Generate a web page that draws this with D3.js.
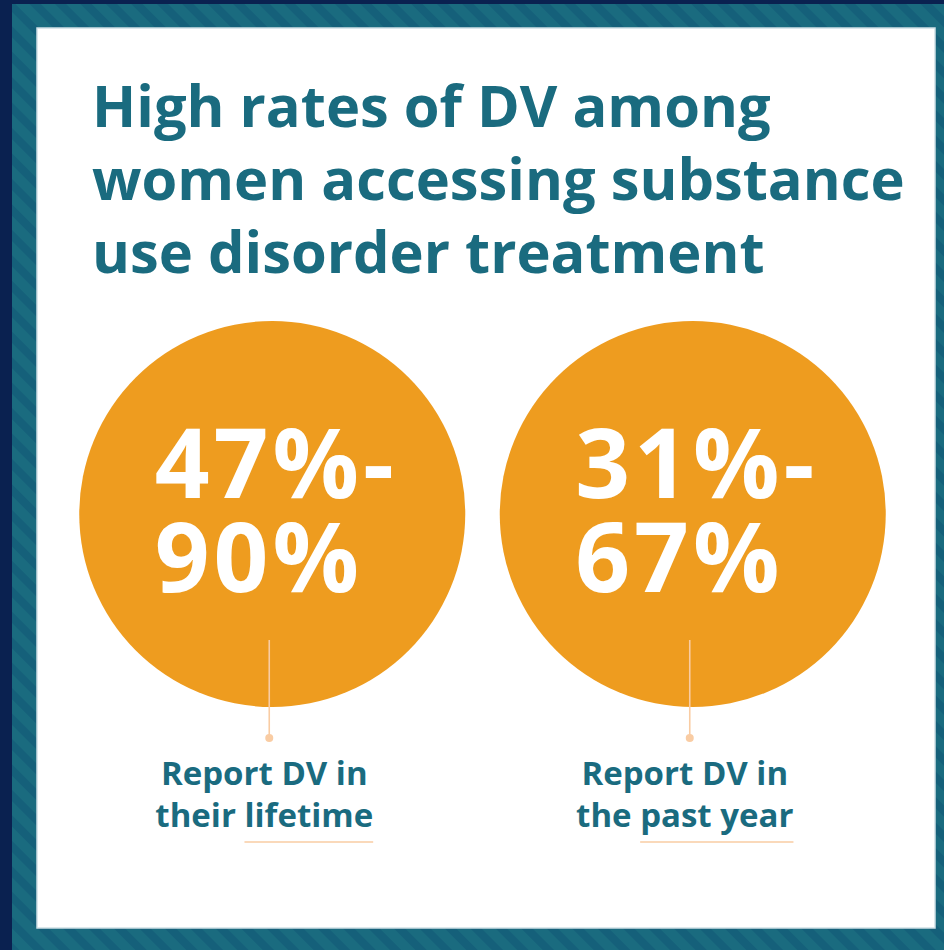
<!DOCTYPE html>
<html lang="en">
<head>
    <meta charset="UTF-8">
    <title>High rates of DV</title>
    <script src="https://d3js.org/d3.v7.min.js"></script>
    <style>
        body { margin: 0; background: #0a2150; }
        text { font-family: "Open Sans", "Noto Sans", sans-serif; font-weight: 700; }
    </style>
</head>
<body>
    <svg width="944" height="950"></svg>
    <script>
        // data
        const titleLines = ["High rates of DV among", "women accessing substance", "use disorder treatment"];
        const categories = ["lifetime", "past year"];
        const lowValues = [47, 31];
        const highValues = [90, 67];
        const labelLines = [["Report DV in", "their lifetime"], ["Report DV in", "the past year"]];
        const underlined = ["lifetime", "past year"];

        const svg = d3.select("svg");
        const width = +svg.attr("width");
        const height = +svg.attr("height");

        const teal = "#1a6b7f";
        const orange = "#ee9c1f";
        const peach = "#f9cca3";

        // striped frame
        const defs = svg.append("defs");
        const pat = defs.append("pattern")
            .attr("id", "stripes")
            .attr("width", 18).attr("height", 18)
            .attr("patternUnits", "userSpaceOnUse")
            .attr("patternTransform", "rotate(-45)");
        pat.append("rect").attr("width", 18).attr("height", 18).attr("fill", teal);
        pat.append("rect").attr("width", 8).attr("height", 18).attr("fill", "#15607a");

        svg.append("rect").attr("width", width).attr("height", height).attr("fill", "#0a2150");
        svg.append("rect")
            .attr("x", 12).attr("y", 4)
            .attr("width", width - 12).attr("height", height - 4)
            .attr("fill", "url(#stripes)");

        // white panel
        svg.append("rect")
            .attr("x", 37).attr("y", 28)
            .attr("width", 898).attr("height", 900)
            .attr("fill", "#fff")
            .attr("stroke", "#cfe0e6").attr("stroke-width", 1.5);

        // title, fitted to the longest line
        const title = svg.append("g");
        title.selectAll("text")
            .data(titleLines)
            .join("text")
            .attr("x", 92)
            .attr("y", (d, i) => 127 + i * 73)
            .attr("fill", teal)
            .attr("font-size", 58)
            .text(d => d);
        const longest = d3.max(title.selectAll("text").nodes(), n => n.getComputedTextLength());
        title.selectAll("text").attr("font-size", 58 * 813 / longest);

        // circles
        const x = d3.scaleBand().domain(categories).range([62, 903]);
        const r = 193;
        const cy = 514;

        const g = svg.selectAll("g.stat")
            .data(categories)
            .join("g")
            .attr("class", "stat")
            .attr("transform", d => `translate(${x(d) + x.bandwidth() / 2},0)`);

        g.append("circle")
            .attr("cy", cy).attr("r", r)
            .attr("fill", orange);

        g.each(function (d, i) {
            const sel = d3.select(this);
            const lines = [lowValues[i] + "%-", highValues[i] + "%"];
            const t = sel.selectAll("text.num")
                .data(lines)
                .join("text")
                .attr("class", "num")
                .attr("y", (v, j) => 498 + j * 94)
                .attr("fill", "#fff")
                .attr("font-size", 96)
                .attr("letter-spacing", 4)
                .text(v => v);
            const w = d3.max(t.nodes(), n => n.getComputedTextLength());
            t.attr("x", -w / 2 + 4);

            // connector
            sel.append("line")
                .attr("x1", -3).attr("x2", -3)
                .attr("y1", 640).attr("y2", 738)
                .attr("stroke", peach).attr("stroke-width", 1.6);
            sel.append("circle")
                .attr("cx", -3).attr("cy", 738).attr("r", 4)
                .attr("fill", peach);

            // label
            const lab = sel.selectAll("text.lab")
                .data(labelLines[i])
                .join("text")
                .attr("class", "lab")
                .attr("x", -8)
                .attr("y", (v, j) => 785 + j * 42)
                .attr("text-anchor", "middle")
                .attr("fill", teal)
                .attr("font-size", 33)
                .text(v => v);

            // underline under the last words
            const last = lab.nodes()[1];
            const full = last.getComputedTextLength();
            const idx = labelLines[i][1].indexOf(underlined[i]);
            const start = last.getSubStringLength(0, idx);
            sel.append("line")
                .attr("x1", -8 - full / 2 + start)
                .attr("x2", -8 + full / 2)
                .attr("y1", 842).attr("y2", 842)
                .attr("stroke", peach).attr("stroke-width", 1.6);
        });
    </script>
</body>
</html>
